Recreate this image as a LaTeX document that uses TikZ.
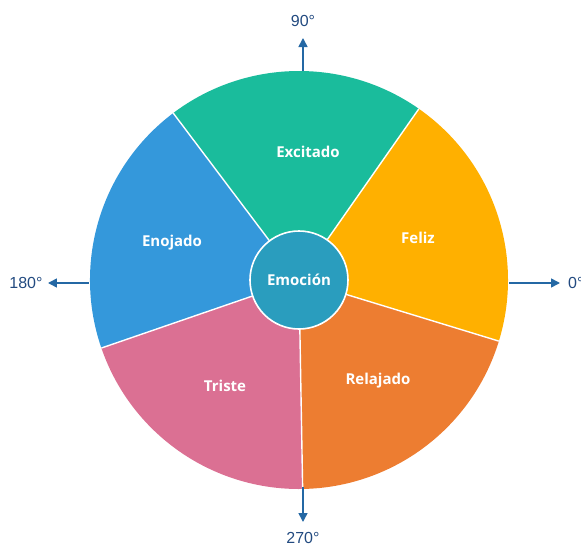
\documentclass[tikz,border=0pt]{standalone}
\usepackage{xcolor}
\usepackage{fontspec}
\setmainfont{Open Sans}
\newfontfamily\axisfont{Liberation Sans}
\usepackage{tikz}
\usetikzlibrary{arrows.meta}

\definecolor{excitadoc}{RGB}{26,188,156}
\definecolor{felizc}{RGB}{255,176,0}
\definecolor{relajadoc}{RGB}{237,125,49}
\definecolor{tristec}{RGB}{219,112,147}
\definecolor{enojadoc}{RGB}{52,152,219}
\definecolor{emocionc}{RGB}{42,157,190}
\definecolor{axisblue}{RGB}{36,104,164}
\definecolor{axistext}{RGB}{34,74,128}

\tikzset{
  emolabel/.style={text=white, font=\bfseries\fontsize{15}{18}\selectfont},
  axisarrow/.style={draw=axisblue, line width=1.6pt, -{Triangle[length=9pt,width=9pt]}},
  anglabel/.style={text=axistext, font=\axisfont\fontsize{16}{19}\selectfont, inner sep=0pt},
}

\begin{document}
\begin{tikzpicture}[x=1pt,y=1pt]
        \useasboundingbox (-299,-267) rectangle (282,280);
        % sectors of the wheel
        \fill[excitadoc] (0,0) -- (55:209) arc[start angle=55, end angle=127, radius=209] -- cycle;
        \fill[enojadoc] (0,0) -- (127:209) arc[start angle=127, end angle=199, radius=209] -- cycle;
        \fill[tristec] (0,0) -- (199:209) arc[start angle=199, end angle=271, radius=209] -- cycle;
        \fill[relajadoc] (0,0) -- (271:209) arc[start angle=271, end angle=343, radius=209] -- cycle;
        \fill[felizc] (0,0) -- (343:209) arc[start angle=343, end angle=415, radius=209] -- cycle;
        \foreach \a in {55,127,199,271,343}
            \draw[white, line width=1.4pt] (0,0) -- (\a:209);
        % labels of the sectors
        \node[emolabel] (excitado) at (9,128) {Excitado};
        \node[emolabel] (feliz) at (119,42) {Feliz};
        \node[emolabel] (relajado) at (79,-101) {Relajado};
        \node[emolabel] (triste) at (-74,-106) {Triste};
        \node[emolabel] (enojado) at (-127,37) {Enojado};
        \node[circle, fill=emocionc, draw=white, line width=1.6pt, minimum size=98pt, emolabel] (emocion) at (0,0) {Emoción};
        % axes
        \coordinate (rim90) at (4,209);
        \coordinate (tip90) at (4,242);
        \node[anglabel] (a90) at (4,259) {90°};
        \draw[axisarrow] (rim90) -- (tip90);
        \coordinate (rim0) at (210,-3);
        \coordinate (tip0) at (261,-3);
        \node[anglabel, anchor=west] (a0) at (269,-3) {0°};
        \draw[axisarrow] (rim0) -- (tip0);
        \coordinate (rim180) at (-210,-3);
        \coordinate (tip180) at (-251,-3);
        \node[anglabel] (a180) at (-273,-3) {180°};
        \draw[axisarrow] (rim180) -- (tip180);
        \coordinate (rim270) at (4,-207);
        \coordinate (tip270) at (4,-242);
        \node[anglabel] (a270) at (4,-258) {270°};
        \draw[axisarrow] (rim270) -- (tip270);
\end{tikzpicture}
\end{document}
